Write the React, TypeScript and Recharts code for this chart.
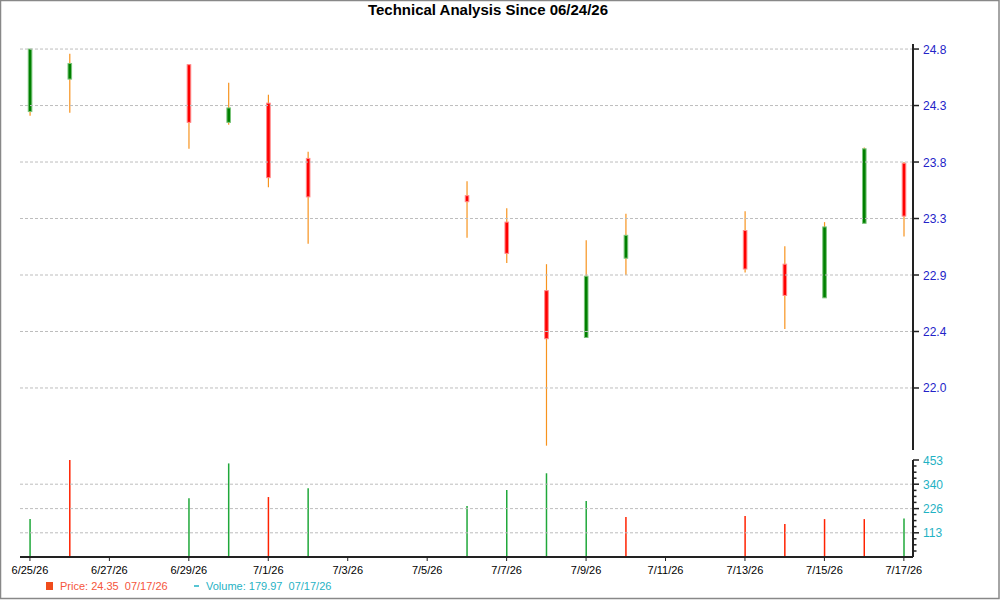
import React from 'react';
import { ComposedChart, Bar, XAxis, YAxis, ReferenceLine } from 'recharts';

// ---- data ----
const days = [0, 1, 4, 5, 6, 7, 11, 12, 13, 14, 15, 18, 19, 20, 21, 22];
const openPrices = [24.28, 24.55, 24.67, 24.19, 24.35, 23.89, 23.58, 23.36, 22.79, 22.40, 23.06, 23.29, 23.01, 22.73, 23.35, 23.85];
const highPrices = [24.80, 24.76, 24.67, 24.52, 24.42, 23.945, 23.70, 23.475, 23.01, 23.21, 23.43, 23.45, 23.16, 23.36, 23.98, 23.86];
const lowPrices = [24.245, 24.27, 23.97, 24.17, 23.65, 23.18, 23.23, 23.02, 21.50, 22.40, 22.92, 22.94, 22.47, 22.73, 23.35, 23.24];
const closePrices = [24.80, 24.68, 24.19, 24.31, 23.73, 23.57, 23.53, 23.10, 22.39, 22.91, 23.25, 22.97, 22.75, 23.32, 23.97, 23.41];
const volumes = [177, 453, 274, 437, 280, 321, 238, 313, 391, 262, 187, 191, 154, 177, 177, 180];
const volumeUp = [true, false, true, true, false, true, true, true, true, true, false, false, false, false, false, true];

const xTickValues = [0, 2, 4, 6, 8, 10, 12, 14, 16, 18, 20, 22];
const xTickLabels = ['6/25/26', '6/27/26', '6/29/26', '7/1/26', '7/3/26', '7/5/26', '7/7/26', '7/9/26', '7/11/26', '7/13/26', '7/15/26', '7/17/26'];

const priceTicks = [21.98, 22.45, 22.92, 23.39, 23.86, 24.33, 24.80];
const priceTickLabels = ['22.0', '22.4', '22.9', '23.3', '23.8', '24.3', '24.8'];

const volumeMajorTicks = [113, 226, 340, 453];
const volumeMinorTicks = [28, 57, 85, 142, 170, 198, 255, 283, 311, 368, 396, 425];
const volumeGrid = [113, 226, 340];

const titleText = 'Technical Analysis Since 06/24/26';
const legendPrice = 'Price: 24.35  07/17/26';
const legendVolume = 'Volume: 179.97  07/17/26';

const priceData = days.map((d, i) => ({
  day: d,
  o: openPrices[i],
  h: highPrices[i],
  l: lowPrices[i],
  c: closePrices[i],
  range: [lowPrices[i], highPrices[i]],
}));

const volumeData = days.map((d, i) => ({ day: d, volume: volumes[i], up: volumeUp[i] }));

const FONT = '"Liberation Sans", Arial, sans-serif';
const X_DOMAIN: [number, number] = [-0.25, 22.23];

const Candle = (props: any) => {
  const { x, y, width, height, payload } = props;
  if (!payload) return null;
  const { o, h, l, c } = payload;
  const top = Math.min(y, y + height);
  const hh = Math.abs(height);
  const ratio = hh / (h - l);
  const py = (v: number) => top + (h - v) * ratio;
  const cx = x + width / 2;
  const up = c >= o;
  const bTop = py(Math.max(o, c));
  const bBot = py(Math.min(o, c));
  const bh = Math.max(bBot - bTop, 2);
  return (
    <g>
      <line x1={cx} x2={cx} y1={top} y2={top + hh} stroke="#f7931e" strokeWidth={1.2} />
      <rect
        x={cx - 1.8}
        y={bTop}
        width={3.6}
        height={bh}
        fill={up ? '#008000' : '#ff0000'}
        stroke={up ? '#7cc47c' : '#ff8c8c'}
        strokeWidth={1}
      />
    </g>
  );
};

const VolBar = (props: any) => {
  const { x, y, width, height, payload } = props;
  if (!payload) return null;
  const cx = x + width / 2;
  const top = Math.min(y, y + height);
  const hh = Math.abs(height);
  return <line x1={cx} x2={cx} y1={top} y2={top + hh} stroke={payload.up ? '#1fa83a' : '#ff2200'} strokeWidth={1.5} />;
};

const PriceTick = (props: any) => {
  const { x, y, payload } = props;
  const idx = priceTicks.indexOf(payload.value);
  return (
    <g>
      <line x1={x} x2={x + 6} y1={y} y2={y} stroke="#222" strokeWidth={1.5} />
      <text x={x + 10} y={y + 4.5} fontSize={12} fontFamily={FONT} fill="#2323c8">
        {idx >= 0 ? priceTickLabels[idx] : ''}
      </text>
    </g>
  );
};

const VolumeTick = (props: any) => {
  const { x, y, payload } = props;
  const major = volumeMajorTicks.indexOf(payload.value) >= 0;
  return (
    <g>
      <line x1={x} x2={x + (major ? 6 : 3.5)} y1={y} y2={y} stroke="#222" strokeWidth={1.5} />
      {major && (
        <text x={x + 10} y={y + 4.5} fontSize={12} fontFamily={FONT} fill="#1fb2c4">
          {String(payload.value)}
        </text>
      )}
    </g>
  );
};

export default function App() {
  return (
    <div style={{ position: 'absolute', left: 0, top: 0, width: 1000, height: 600, background: '#fff', overflow: 'hidden' }}>
      <div style={{ position: 'absolute', left: 0, top: 0 }}>
        <ComposedChart width={1000} height={452} data={priceData} margin={{ top: 44, right: 0, bottom: 2, left: 20 }}>
          <XAxis type="number" dataKey="day" domain={X_DOMAIN} hide allowDataOverflow />
          <YAxis
            orientation="right"
            domain={[21.464, 24.842]}
            ticks={priceTicks}
            interval={0}
            width={87}
            allowDataOverflow
            axisLine={{ stroke: '#222', strokeWidth: 2 }}
            tickLine={false}
            tickSize={0}
            tickMargin={0}
            tick={PriceTick}
          />
          {priceTicks.map((t) => (
            <ReferenceLine key={'pg' + t} y={t} stroke="#bdbdbd" strokeDasharray="3 2" />
          ))}
          <Bar dataKey="range" shape={<Candle />} barSize={6} isAnimationActive={false} />
        </ComposedChart>
      </div>
      <div style={{ position: 'absolute', left: 0, top: 452 }}>
        <ComposedChart width={1000} height={148} data={volumeData} margin={{ top: 8, right: 0, bottom: 13, left: 20 }}>
          <XAxis
            type="number"
            dataKey="day"
            domain={X_DOMAIN}
            allowDataOverflow
            ticks={xTickValues}
            interval={0}
            height={30}
            tickFormatter={(v: number) => {
              const i = xTickValues.indexOf(v);
              return i >= 0 ? xTickLabels[i] : '';
            }}
            axisLine={{ stroke: '#222', strokeWidth: 2 }}
            tickLine={{ stroke: '#222', strokeWidth: 1 }}
            tickSize={4}
            tickMargin={5}
            tick={{ fontSize: 11, fontFamily: FONT, fill: '#000' }}
          />
          <YAxis
            orientation="right"
            domain={[0, 453]}
            ticks={[...volumeMinorTicks, ...volumeMajorTicks].sort((a, b) => a - b)}
            interval={0}
            width={87}
            allowDataOverflow
            axisLine={{ stroke: '#222', strokeWidth: 2 }}
            tickLine={false}
            tickSize={0}
            tickMargin={0}
            tick={VolumeTick}
          />
          {volumeGrid.map((t) => (
            <ReferenceLine key={'vg' + t} y={t} stroke="#bdbdbd" strokeDasharray="3 2" />
          ))}
          <Bar dataKey="volume" shape={<VolBar />} barSize={4} isAnimationActive={false} />
        </ComposedChart>
      </div>
      <svg width={1000} height={600} style={{ position: 'absolute', left: 0, top: 0, pointerEvents: 'none' }}>
        <text x={488} y={15} textAnchor="middle" fontSize={15} fontWeight="bold" fontFamily={FONT} fill="#000">
          {titleText}
        </text>
        <rect x={46} y={582} width={7} height={8} fill="#f04c1c" />
        <text x={60} y={590} fontSize={11} fontFamily={FONT} fill="#f5553c" style={{ whiteSpace: 'pre' }}>
          {legendPrice}
        </text>
        <line x1={194} x2={199} y1={586} y2={586} stroke="#1fb2c4" strokeWidth={1.5} />
        <text x={206} y={590} fontSize={11} fontFamily={FONT} fill="#1fb2c4" style={{ whiteSpace: 'pre' }}>
          {legendVolume}
        </text>
        <rect x={0.5} y={0.5} width={998.5} height={598} fill="none" stroke="#888" strokeWidth={1.5} />
      </svg>
    </div>
  );
}
